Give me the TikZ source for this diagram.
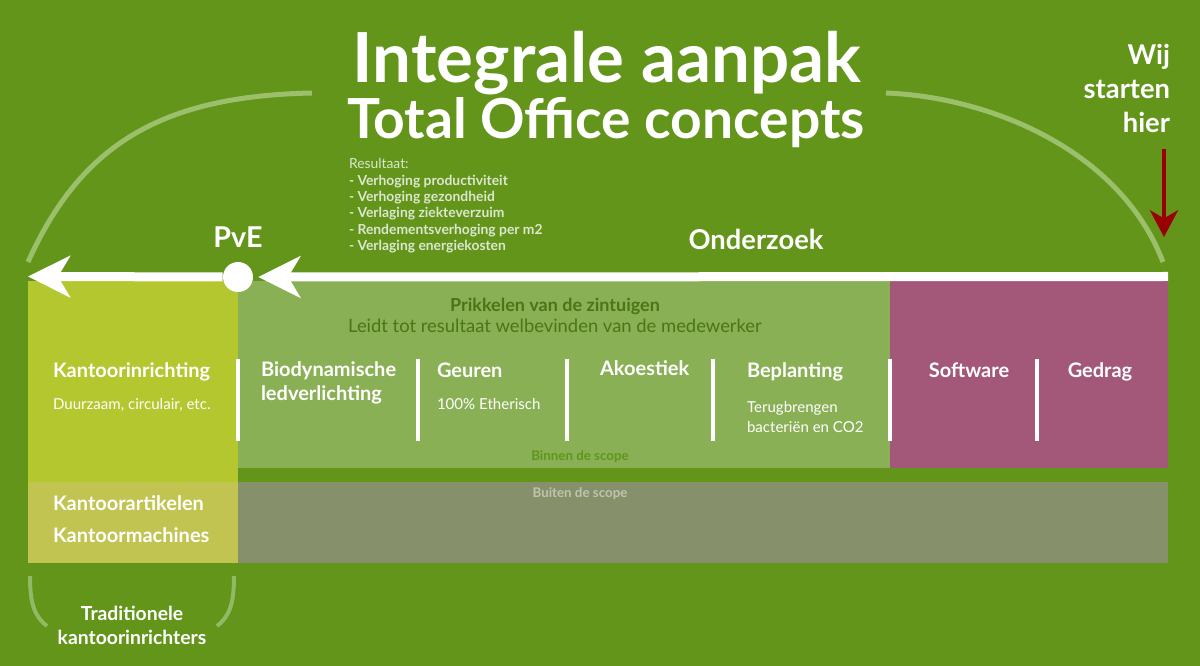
\documentclass[tikz,border=0pt]{standalone}
\usepackage{fontspec}
\setmainfont{Lato}
\usetikzlibrary{arrows.meta}
\definecolor{bgc}{HTML}{62951A}
\definecolor{lgc}{HTML}{8AB055}
\definecolor{yelc}{HTML}{B4C72F}
\definecolor{yeltc}{HTML}{C2C452}
\definecolor{mauvec}{HTML}{A3587A}
\definecolor{grayc}{HTML}{86916C}
\definecolor{arcc}{HTML}{9CBF6B}
\definecolor{resc}{HTML}{DDE6CF}
\definecolor{dgc}{HTML}{4A7614}
\definecolor{binc}{HTML}{5E961A}
\definecolor{butc}{HTML}{BFC5AD}
\definecolor{redc}{HTML}{990000}
\definecolor{brc}{HTML}{92B963}
\newcommand\fsz[1]{\fontsize{#1}{#1}\selectfont}
\begin{document}
\begin{tikzpicture}[x=0.75pt,y=-0.75pt,
  txt/.style={inner sep=0pt, outer sep=0pt},
  wlbl/.style={txt, text=white, font=\bfseries\fsz{15pt}},
  wsmall/.style={txt, text=white, font=\fsz{11.3pt}},
  reslbl/.style={txt, text=resc, font=\bfseries\fsz{10.4pt}, anchor=base west},
  arcline/.style={draw=arcc, line width=3.75pt},
  flow/.style={draw=white, line width=6.75pt, -{Stealth[length=31.5pt,width=31pt,inset=9pt]}},
  redarrow/.style={draw=redc, line width=3pt, -{Stealth[length=20pt,width=21pt,inset=6pt]}},
  sepline/.style={draw=white, line width=3pt},
  brk/.style={draw=brc, line width=3pt}]
\fill[bgc] (0,0) rectangle (1200,666);
\useasboundingbox (0,0) rectangle (1200,666);

% arcs
\draw[arcline] (28,262) .. controls (81,144) and (162,96) .. (312,93);
\draw[arcline] (886,93) .. controls (990,97) and (1120,150) .. (1163,262);

% boxes
\fill[yelc] (28,281) rectangle (238,482);
\fill[yeltc] (28,482) rectangle (238,563);
\fill[lgc] (238,281) rectangle (890,468);
\fill[mauvec] (890,281) rectangle (1168,468);
\fill[grayc] (238,482) rectangle (1168,563);

% separators
\foreach \sx in {238,418,567,713,890,1037}{\draw[sepline] (\sx,359) -- (\sx,441);}

% main flow
\coordinate (start) at (1168,276.5);
\coordinate (lend) at (28,276.5);
\node[circle, fill=white, minimum size=22.5pt, inner sep=0pt] (pve) at (238,277) {};
\draw[flow, shorten >=3.75pt] (start) -- (pve);
\draw[flow] (pve) -- (lend);

% red arrow
\coordinate (rtop) at (1164,149);
\coordinate (rtip) at (1164,237);
\draw[redarrow] (rtop) -- (rtip);

% brackets
\draw[brk] (30,576) .. controls (30,603) and (34,616) .. (47,626);
\draw[brk] (234,576) .. controls (234,603) and (230,616) .. (217,626);

% titles
\node[txt, text=white, font=\bfseries\fsz{51.75pt}, anchor=base] (t1) at (607,83) {Integrale aanpak};
\node[txt, text=white, font=\bfseries\fsz{41.4pt}, anchor=base] (t2) at (606,139) {Total Office concepts};

% resultaat
\node[txt, text=resc, font=\fsz{10.4pt}, anchor=base west] (r0) at (349,169) {Resultaat:};
\node[reslbl] (r1) at (349,186) {- Verhoging productiviteit};
\node[reslbl] (r2) at (349,202) {- Verhoging gezondheid};
\node[reslbl] (r3) at (349,218) {- Verlaging ziekteverzuim};
\node[reslbl] (r4) at (349,235) {- Rendementsverhoging per m2};
\node[reslbl] (r5) at (349,251) {- Verlaging energiekosten};

% wij starten hier
\node[txt, text=white, font=\bfseries\fsz{20.5pt}, anchor=base east] (w1) at (1170,65) {Wij};
\node[txt, text=white, font=\bfseries\fsz{20.5pt}, anchor=base east] (w2) at (1170,99) {starten};
\node[txt, text=white, font=\bfseries\fsz{20.5pt}, anchor=base east] (w3) at (1170,133) {hier};

% PvE, Onderzoek
\node[txt, text=white, font=\bfseries\fsz{21.5pt}, anchor=base] (pvelbl) at (238,248) {PvE};
\node[txt, text=white, font=\bfseries\fsz{20.5pt}, anchor=base] (ond) at (756,250) {Onderzoek};

% light green box headers
\node[txt, text=dgc, font=\bfseries\fsz{13.5pt}, anchor=base] (prik) at (555,312) {Prikkelen van de zintuigen};
\node[txt, text=dgc, font=\fsz{13.8pt}, anchor=base] (leidt) at (555,333) {Leidt tot resultaat welbevinden van de medewerker};

% column labels
\node[wlbl, anchor=base west] (kinr) at (53,378) {Kantoorinrichting};
\node[wsmall, anchor=base west] (duur) at (53,410) {Duurzaam, circulair, etc.};
\node[wlbl, anchor=base west] (bio1) at (261,377) {Biodynamische};
\node[wlbl, anchor=base west] (bio2) at (261,401) {ledverlichting};
\node[wlbl, anchor=base west] (geur) at (437,378) {Geuren};
\node[wsmall, anchor=base west] (eth) at (437,410) {100\% Etherisch};
\node[wlbl, anchor=base west] (ako) at (600,376) {Akoestiek};
\node[wlbl, anchor=base west] (bepl) at (747,378) {Beplanting};
\node[wsmall, anchor=base west] (ter1) at (747,413) {Terugbrengen};
\node[wsmall, anchor=base west] (ter2) at (747,433) {bacteriën en CO2};
\node[wlbl, anchor=base] (soft) at (969,378) {Software};
\node[wlbl, anchor=base] (gedr) at (1100,378) {Gedrag};

\node[txt, text=binc, font=\bfseries\fsz{10pt}, anchor=base] (binnen) at (580,460) {Binnen de scope};
\node[txt, text=butc, font=\bfseries\fsz{10pt}, anchor=base] (buiten) at (580,498) {Buiten de scope};

\node[wlbl, anchor=base west] (kart) at (53,511) {Kantoorartikelen};
\node[wlbl, anchor=base west] (kmach) at (53,542) {Kantoormachines};

\node[txt, text=white, font=\bfseries\fsz{14.5pt}, anchor=base] (trad1) at (132,620) {Traditionele};
\node[txt, text=white, font=\bfseries\fsz{14.5pt}, anchor=base] (trad2) at (132,644) {kantoorinrichters};
\end{tikzpicture}
\end{document}
